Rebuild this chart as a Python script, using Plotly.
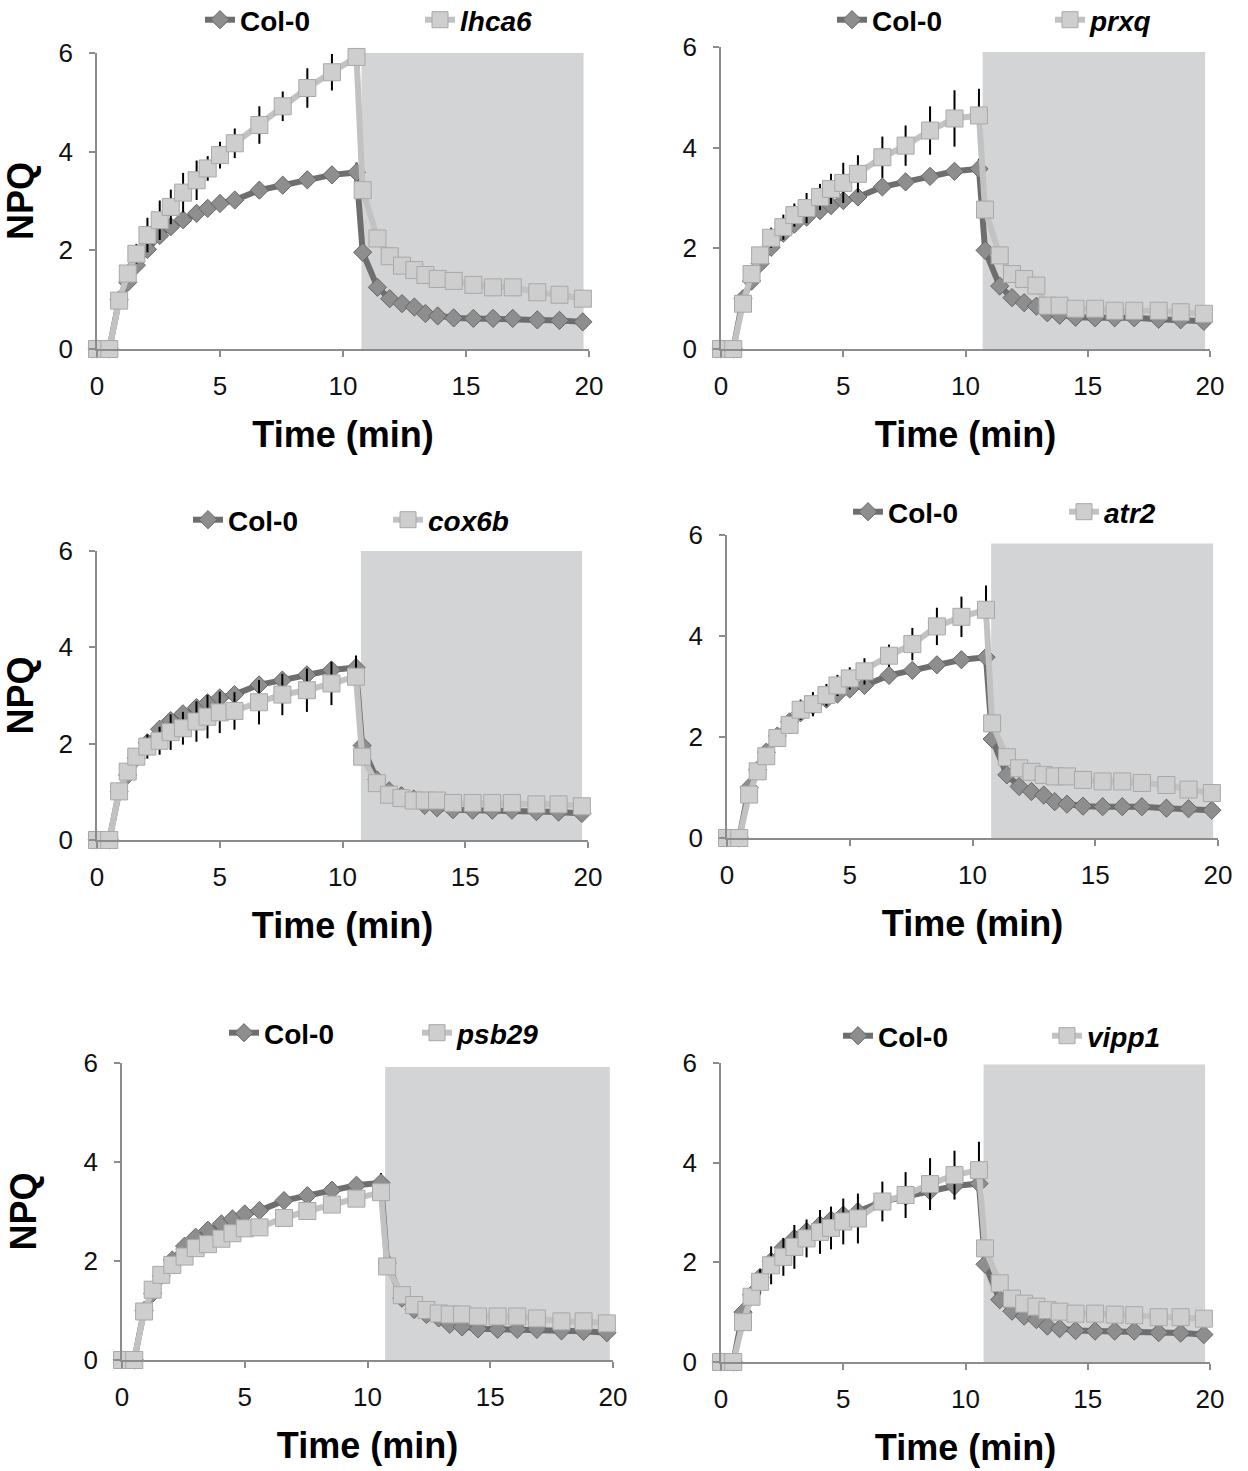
import plotly.graph_objects as go

W, H = 1248, 1471
FONT = "Liberation Sans, Arial, sans-serif"

# Sampling times of the NPQ protocol (actinic light 0-10.5 min, then dark recovery)
time_min = [0, 0.5, 0.9, 1.25, 1.6, 2.05, 2.55, 3.0, 3.5, 4.05, 4.5, 5.0, 5.6, 6.6, 7.55, 8.55, 9.55, 10.55,
            10.8, 11.4, 11.9, 12.4, 12.9, 13.35, 13.85, 14.5, 15.3, 16.1, 16.9, 17.9, 18.8, 19.75]

# Wild type (Col-0)
col0_npq = [0, 0, 1.0, 1.35, 1.7, 2.02, 2.3, 2.48, 2.62, 2.75, 2.85, 2.95, 3.02, 3.22, 3.32, 3.43, 3.53, 3.58,
            1.96, 1.25, 1.02, 0.92, 0.85, 0.72, 0.67, 0.63, 0.62, 0.62, 0.62, 0.59, 0.58, 0.55]
col0_err = [0, 0, 0.05, 0.08, 0.1, 0.1, 0.12, 0.12, 0.12, 0.12, 0.12, 0.12, 0.12, 0.15, 0.15, 0.15, 0.15, 0.2,
            0.06, 0.05, 0.05, 0.05, 0.05, 0.05, 0.05, 0.05, 0.05, 0.05, 0.05, 0.05, 0.05, 0.05]

# Mutant lines
lhca6_npq = [0, 0, 0.98, 1.53, 1.93, 2.31, 2.61, 2.88, 3.17, 3.42, 3.66, 3.93, 4.17, 4.54, 4.92, 5.29, 5.61, 5.92,
             3.22, 2.24, 1.88, 1.69, 1.6, 1.5, 1.42, 1.38, 1.3, 1.25, 1.25, 1.15, 1.1, 1.02]
lhca6_err = [0, 0, 0.08, 0.15, 0.2, 0.35, 0.4, 0.35, 0.4, 0.4, 0.25, 0.27, 0.3, 0.38, 0.3, 0.4, 0.37, 0.1,
             0.1, 0.08, 0.06, 0.06, 0.05, 0.05, 0.05, 0.05, 0.05, 0.05, 0.05, 0.05, 0.05, 0.05]

prxq_npq = [0, 0, 0.9, 1.49, 1.86, 2.21, 2.42, 2.66, 2.8, 3.02, 3.18, 3.30, 3.48, 3.81, 4.04, 4.34, 4.58, 4.64,
            2.77, 1.86, 1.49, 1.39, 1.26, 0.86, 0.86, 0.80, 0.80, 0.76, 0.76, 0.76, 0.73, 0.70]
prxq_err = [0, 0, 0.1, 0.1, 0.12, 0.2, 0.25, 0.23, 0.3, 0.26, 0.3, 0.4, 0.37, 0.41, 0.4, 0.48, 0.56, 0.53,
            0.1, 0.1, 0.08, 0.08, 0.1, 0.06, 0.06, 0.05, 0.05, 0.05, 0.05, 0.05, 0.15, 0.05]

cox6b_npq = [0, 0, 1.01, 1.42, 1.73, 1.94, 2.06, 2.24, 2.32, 2.46, 2.56, 2.65, 2.68, 2.86, 3.02, 3.11, 3.25, 3.39,
             1.73, 1.18, 0.94, 0.87, 0.82, 0.82, 0.82, 0.77, 0.77, 0.77, 0.77, 0.74, 0.74, 0.70]
cox6b_err = [0, 0, 0.08, 0.1, 0.15, 0.25, 0.29, 0.37, 0.34, 0.42, 0.45, 0.43, 0.39, 0.46, 0.43, 0.45, 0.45, 0.44,
             0.1, 0.06, 0.05, 0.05, 0.05, 0.05, 0.05, 0.05, 0.05, 0.05, 0.05, 0.05, 0.05, 0.05]

atr2_npq = [0, 0, 0.86, 1.32, 1.62, 1.98, 2.24, 2.54, 2.65, 2.83, 3.02, 3.16, 3.30, 3.61, 3.84, 4.19, 4.38, 4.52,
            2.27, 1.60, 1.38, 1.31, 1.25, 1.22, 1.22, 1.15, 1.12, 1.12, 1.09, 1.05, 0.96, 0.89]
atr2_err = [0, 0, 0.08, 0.1, 0.12, 0.15, 0.18, 0.2, 0.24, 0.22, 0.21, 0.22, 0.26, 0.22, 0.32, 0.37, 0.4, 0.48,
            0.1, 0.08, 0.06, 0.06, 0.06, 0.06, 0.06, 0.06, 0.06, 0.06, 0.06, 0.06, 0.06, 0.06]

psb29_npq = [0, 0, 0.98, 1.42, 1.72, 1.92, 2.09, 2.26, 2.34, 2.45, 2.56, 2.66, 2.68, 2.87, 3.01, 3.14, 3.26, 3.39,
             1.89, 1.31, 1.11, 1.01, 0.94, 0.92, 0.92, 0.88, 0.88, 0.88, 0.84, 0.78, 0.78, 0.74]
psb29_err = [0, 0, 0.05, 0.06, 0.07, 0.08, 0.08, 0.09, 0.09, 0.1, 0.1, 0.1, 0.1, 0.1, 0.1, 0.1, 0.1, 0.1,
             0.08, 0.05, 0.05, 0.05, 0.05, 0.05, 0.05, 0.05, 0.05, 0.05, 0.05, 0.05, 0.05, 0.05]

vipp1_npq = [0, 0, 0.80, 1.31, 1.61, 1.94, 2.11, 2.31, 2.48, 2.61, 2.69, 2.82, 2.88, 3.22, 3.35, 3.57, 3.75, 3.85,
             2.28, 1.58, 1.27, 1.17, 1.11, 1.04, 1.01, 0.97, 0.97, 0.95, 0.94, 0.90, 0.90, 0.87]
vipp1_err = [0, 0, 0.1, 0.15, 0.25, 0.38, 0.38, 0.44, 0.38, 0.44, 0.43, 0.46, 0.5, 0.4, 0.46, 0.52, 0.49, 0.57,
             0.1, 0.1, 0.08, 0.08, 0.08, 0.08, 0.08, 0.08, 0.08, 0.12, 0.08, 0.12, 0.08, 0.15]

mutant_names = ["lhca6", "prxq", "cox6b", "atr2", "psb29", "vipp1"]
mutant_npq = [lhca6_npq, prxq_npq, cox6b_npq, atr2_npq, psb29_npq, vipp1_npq]
mutant_err = [lhca6_err, prxq_err, cox6b_err, atr2_err, psb29_err, vipp1_err]

# Dark-recovery period shading (min, NPQ)
dark_start = [10.75, 10.7, 10.75, 10.76, 10.72, 10.74]
dark_end = [19.78, 19.8, 19.76, 19.8, 19.87, 19.8]
shade_top = [6.04, 5.9, 6.08, 5.83, 5.92, 5.97]

x_ticks = [0, 5, 10, 15, 20]
y_ticks = [0, 2, 4, 6]

# Plot-area boxes in pixels: (left, right, top, bottom)
boxes = [(97, 589, 53, 349), (721, 1210, 47, 349),
         (97, 588, 551, 840), (727, 1218, 535, 838),
         (122, 613, 1063, 1360), (721, 1210, 1063, 1362)]
# Legend placement in pixels: (Col-0 text start, mutant text start, vertical centre)
legend_pos = [(240, 460, 20), (872, 1090, 20), (228, 428, 520),
              (888, 1104, 512), (264, 457, 1033), (878, 1087, 1036)]
ytitle_standoff = [16, None, 16, None, 36, None]

AXIS_GREY = "#8c8c8c"
fig = go.Figure()
layout = {}
shapes = []

for i in range(6):
    n = "" if i == 0 else str(i + 1)
    xa, ya = "x" + n, "y" + n
    lg_c = "legend" if i == 0 else f"legend{2 * i + 1}"
    lg_m = f"legend{2 * i + 2}"

    fig.add_trace(go.Scatter(
        x=time_min, y=col0_npq, name="Col-0", mode="lines+markers",
        line=dict(color="#6e6e6e", width=6),
        marker=dict(symbol="diamond", size=14, color="#8e8e8e", line=dict(color="#666666", width=1)),
        error_y=dict(type="data", array=col0_err, visible=True, color="black", thickness=2, width=0),
        xaxis=xa, yaxis=ya, legend=lg_c, cliponaxis=False, showlegend=True))
    fig.add_trace(go.Scatter(
        x=time_min, y=mutant_npq[i], name=f"<i>{mutant_names[i]}</i>", mode="lines+markers",
        line=dict(color="#c2c2c2", width=6),
        marker=dict(symbol="square", size=17, color="#cecece", line=dict(color="#a8a8a8", width=1)),
        error_y=dict(type="data", array=mutant_err[i], visible=True, color="black", thickness=2, width=0),
        xaxis=xa, yaxis=ya, legend=lg_m, cliponaxis=False, showlegend=True))

    left, right, top, bottom = boxes[i]
    layout["xaxis" + n] = dict(
        domain=[left / W, right / W], anchor=ya, range=[0, 20], tickvals=x_ticks, automargin=False,
        showline=True, linecolor=AXIS_GREY, linewidth=1.5, ticks="outside", ticklen=6,
        tickcolor=AXIS_GREY, tickwidth=1.5, showgrid=False, zeroline=False,
        tickfont=dict(family=FONT, size=26, color="#111111"), ticklabelstandoff=7,
        title=dict(text="<b>Time (min)</b>", font=dict(family=FONT, size=36, color="black"), standoff=22))
    ydict = dict(
        domain=[1 - bottom / H, 1 - top / H], anchor=xa, range=[0, 6], tickvals=y_ticks, automargin=False,
        showline=True, linecolor=AXIS_GREY, linewidth=1.5, ticks="outside", ticklen=6,
        tickcolor=AXIS_GREY, tickwidth=1.5, showgrid=False, zeroline=False,
        tickfont=dict(family=FONT, size=26, color="#111111"), ticklabelstandoff=11)
    if ytitle_standoff[i] is not None:
        ydict["title"] = dict(text="<b>NPQ</b>", font=dict(family=FONT, size=36, color="black"),
                              standoff=ytitle_standoff[i])
    layout["yaxis" + n] = ydict

    shapes.append(dict(type="rect", xref=xa, yref=ya, x0=dark_start[i], x1=dark_end[i],
                       y0=0, y1=shade_top[i], fillcolor="#d3d4d6", line=dict(width=0), layer="below"))

    c_text, m_text, yc = legend_pos[i]
    for name, xt in ((lg_c, c_text), (lg_m, m_text)):
        layout[name] = dict(
            x=(xt - 40) / W, y=1 - yc / H, xref="paper", yref="paper", xanchor="left", yanchor="middle",
            orientation="h", bgcolor="rgba(0,0,0,0)", borderwidth=0, itemwidth=30,
            font=dict(family=FONT, size=28, color="black", weight="bold"))

fig.update_layout(
    template="none",
    width=W, height=H, margin=dict(l=0, r=0, t=0, b=0, autoexpand=False),
    paper_bgcolor="white", plot_bgcolor="rgba(0,0,0,0)",
    font=dict(family=FONT), shapes=shapes, **layout)

fig.write_html("out.html")
